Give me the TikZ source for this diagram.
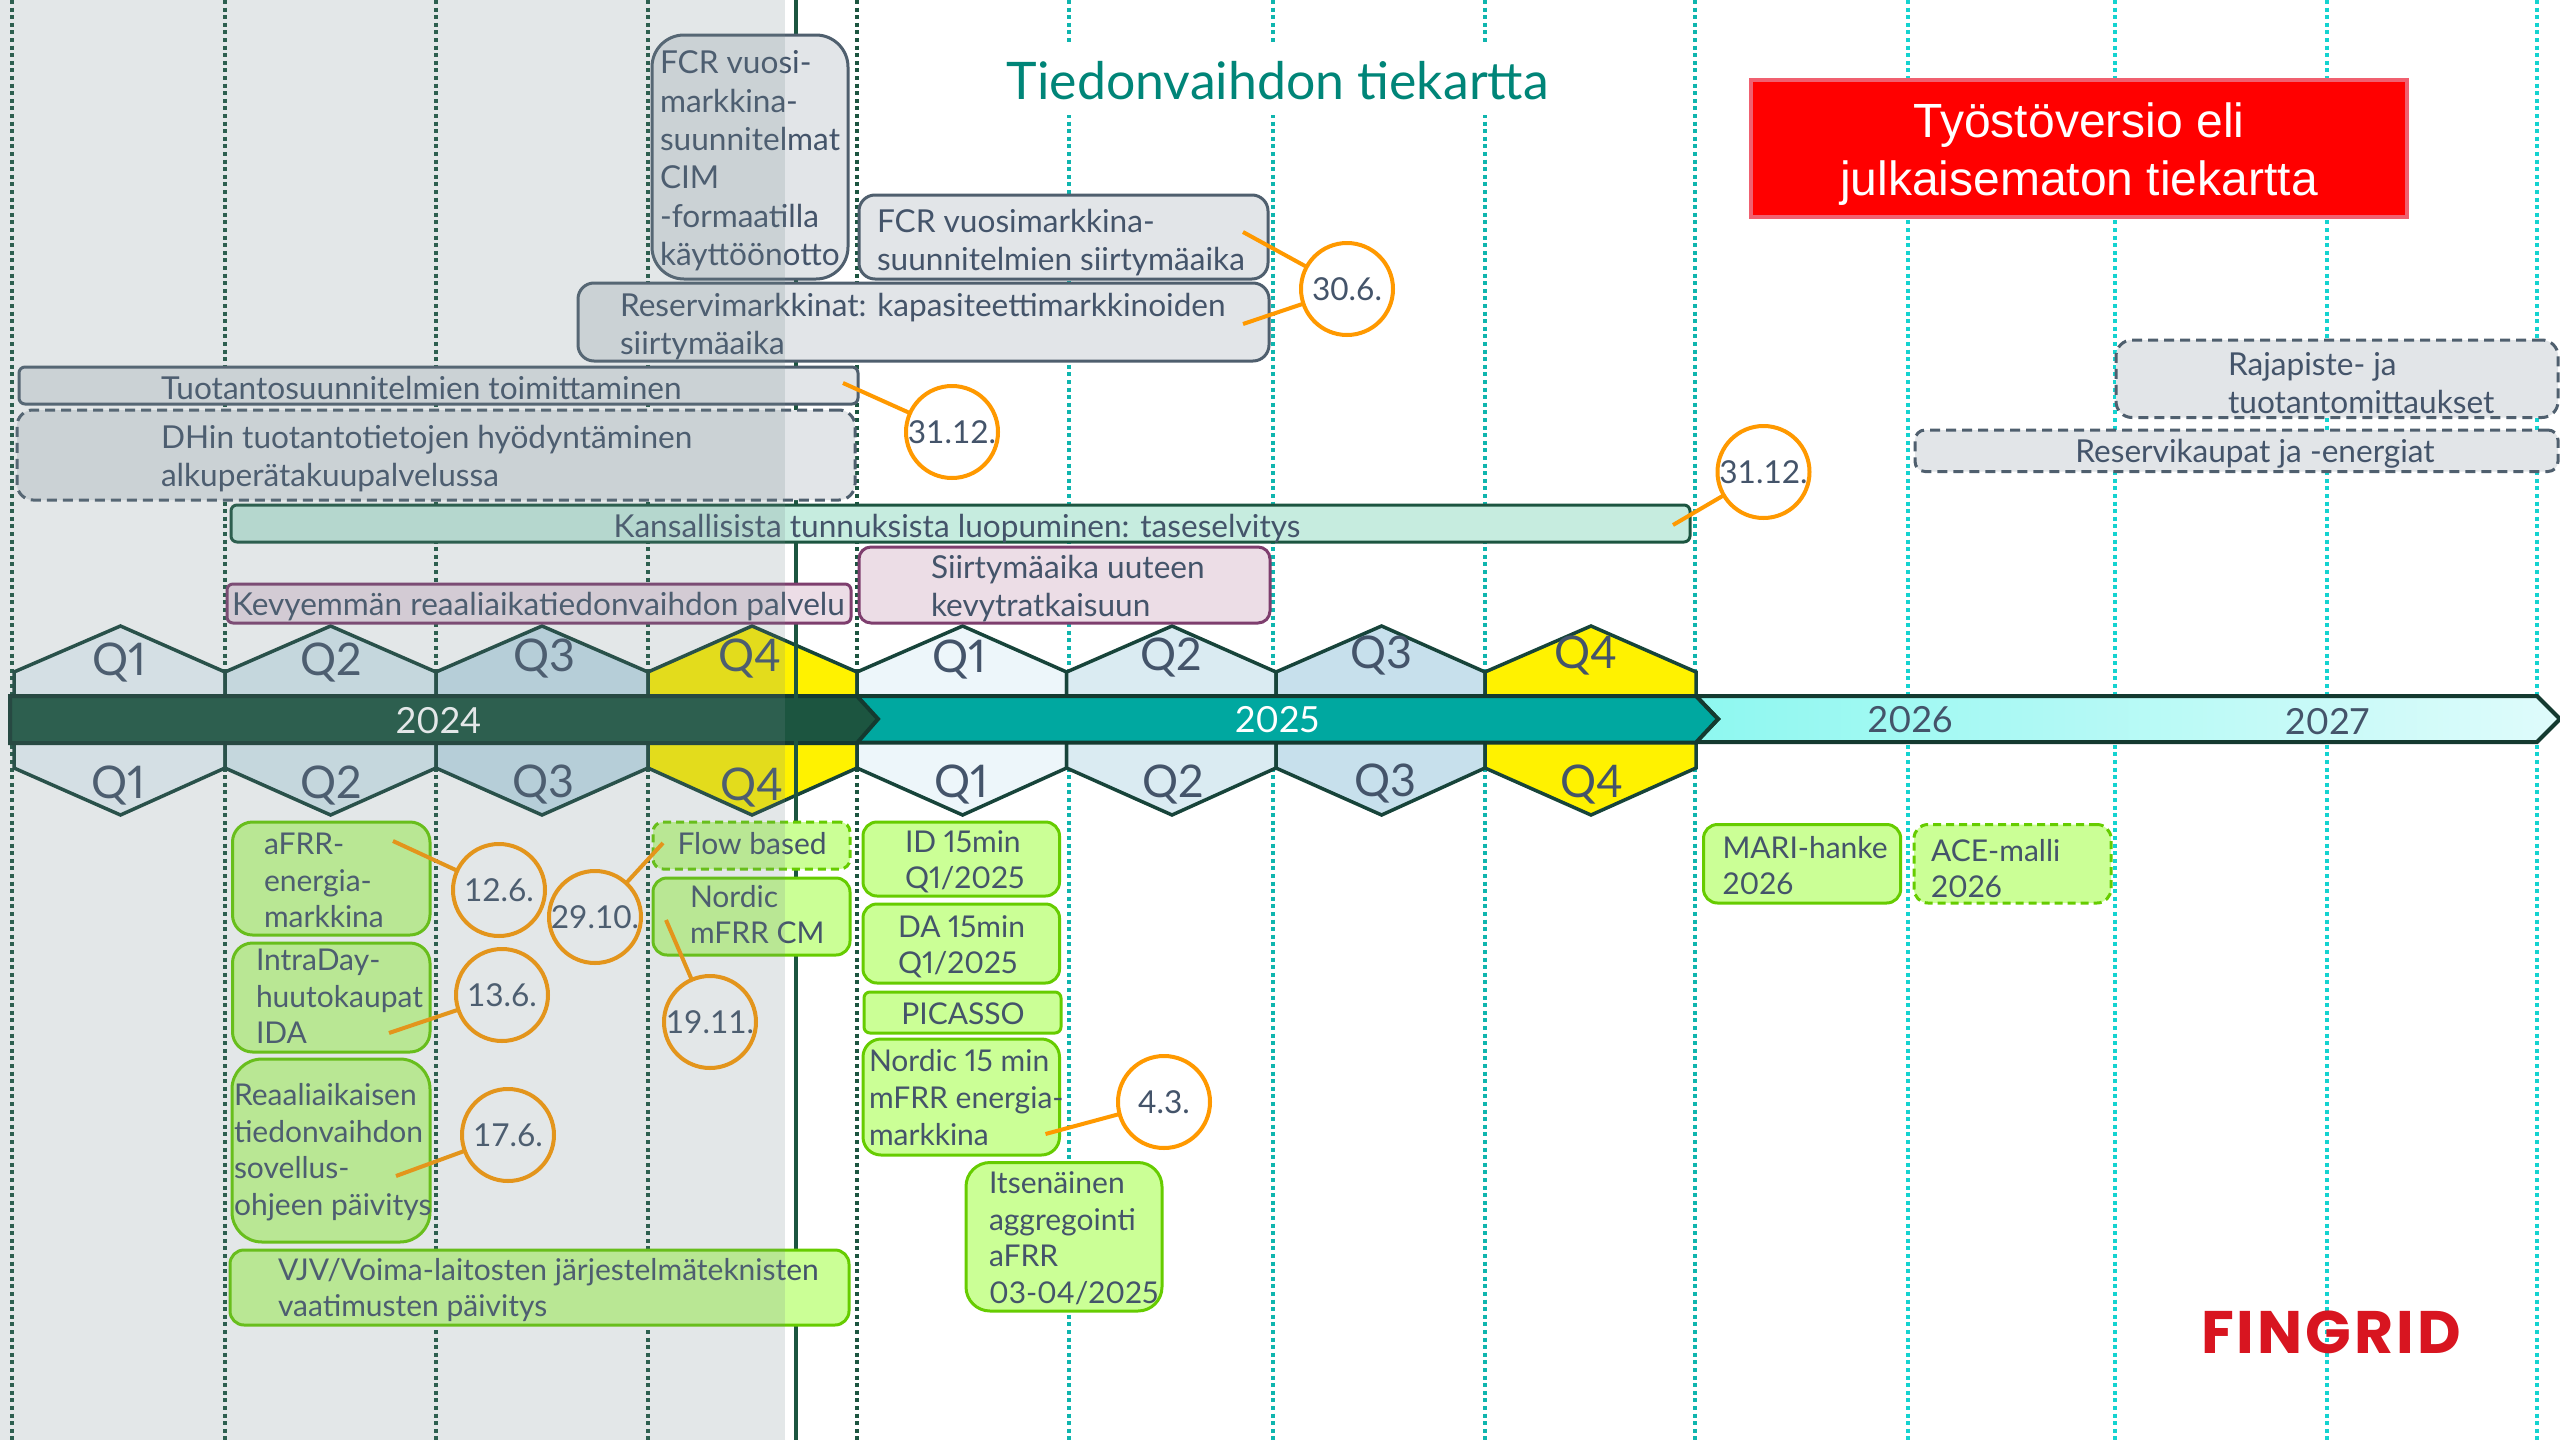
\documentclass[tikz,border=0pt]{standalone}
\usepackage{fontspec}
\setmainfont[Numbers=Proportional]{Lato}
\newfontfamily\circf[Numbers=Tabular]{Lato}
\newfontfamily\arialf{Liberation Sans}
\newfontfamily\logof[LetterSpace=5]{Poppins}
\definecolor{slate}{HTML}{44546A}
\definecolor{overlayc}{HTML}{73878C}
\definecolor{strokeg}{HTML}{4F5F6E}
\definecolor{fillg}{HTML}{E2E5E8}
\definecolor{dkgreen}{HTML}{1C5540}
\definecolor{hexline}{HTML}{17443A}
\definecolor{barline}{HTML}{143A30}
\definecolor{teal}{HTML}{00A8A0}
\definecolor{tealdot}{HTML}{0FB5AE}
\definecolor{cyandot}{HTML}{14D3D0}
\definecolor{mint}{HTML}{C6ECDF}
\definecolor{pinkf}{HTML}{ECDDE6}
\definecolor{pinks}{HTML}{7E3E6E}
\definecolor{lime}{HTML}{CBFF96}
\definecolor{limes}{HTML}{66CC00}
\definecolor{orange1}{HTML}{FF9900}
\definecolor{qa}{HTML}{EDF6FA}
\definecolor{qb}{HTML}{DAEBF2}
\definecolor{qc}{HTML}{C7E0EC}
\definecolor{logored}{HTML}{D81520}
\definecolor{titlec}{HTML}{008578}
\definecolor{redstroke}{HTML}{F06070}
\definecolor{gradl}{HTML}{8EF8F0}
\definecolor{gradr}{HTML}{DFFBFB}
\tikzset{
  x=0.5pt,y=-0.5pt,
  every node/.style={inner sep=0pt,outer sep=0pt},
  dotdark/.style={draw=dkgreen,line width=2pt,dash pattern=on 2pt off 1.8pt},
  dotteal/.style={draw=tealdot,line width=2pt,dash pattern=on 2pt off 1.8pt},
  dotcyan/.style={draw=cyandot,line width=2pt,dash pattern=on 2pt off 1.8pt},
  hex/.style={draw=hexline,line width=1.75pt,line join=miter},
  bar/.style={draw=barline,line width=2pt,line join=miter},
  greybox/.style={draw=strokeg,fill=fillg,line width=1.5pt,rounded corners=#1},
  greybox/.default=8pt,
  greydash/.style={greybox=#1,dash pattern=on 5pt off 3pt},
  greydash/.default=8pt,
  mintbox/.style={draw=dkgreen,fill=mint,line width=1.5pt,rounded corners=3pt},
  pinkbox/.style={draw=pinks,fill=pinkf,line width=1.5pt,rounded corners=#1},
  limebox/.style={draw=limes,fill=lime,line width=1.5pt,rounded corners=#1},
  limebox/.default=9pt,
  limedash/.style={limebox=#1,dash pattern=on 4pt off 2.5pt},
  limedash/.default=6pt,
  txt/.style={font=\fontsize{15.8}{19.2}\selectfont,text=slate,align=left,yshift=-2.5pt,execute at begin node=\strut,execute at end node=\strut},
  txtg/.style={font=\fontsize{15}{18.3}\selectfont,text=slate,align=left,yshift=-2.5pt,execute at begin node=\strut,execute at end node=\strut},
  qlab/.style={font=\fontsize{22.5}{26}\selectfont,text=slate,yshift=-0.7pt},
  yearw/.style={font=\fontsize{18}{22}\selectfont,text=white},
  yeard/.style={font=\fontsize{18}{22}\selectfont,text=slate},
  datec/.style={circle,draw=orange1,line width=2pt,minimum size=46pt,font=\circf\fontsize{15.8}{18}\selectfont,text=slate,fill=white},
  conn/.style={draw=orange1,line width=2pt},
}
\newcommand{\BX}[6]{%
  \pgfmathsetmacro\bw{(#5-#3)*0.5}\pgfmathsetmacro\bh{(#6-#4)*0.5}%
  \node[#2,minimum width=\bw pt,minimum height=\bh pt] (#1) at ({(#3+#5)/2},{(#4+#6)/2}) {};}
\newcommand{\dlow}[2]{\raisebox{-#1pt}{#2}}
\begin{document}
\begin{tikzpicture}
\useasboundingbox (0,0) rectangle (2560,1440);
\fill[white] (0,0) rectangle (2560,1440);
% vertical guides
\foreach \xx in {11.5,225,436,648,857}{\draw[dotdark] (\xx,0) -- (\xx,1440);}
\foreach \xx in {1069,1273,1485,1695}{\draw[dotteal] (\xx,0) -- (\xx,1440);}
\foreach \xx in {1908,2115,2327,2537}{\draw[dotcyan] (\xx,0) -- (\xx,1440);}
% title
\node[fill=white,minimum width=340pt,minimum height=36pt] (titlebg) at (1278,79) {};
\node[font=\fontsize{25.9}{30}\selectfont,text=titlec] (title) at (1278,81) {Tiedonvaihdon tiekartta};
% red box
\BX{redbox}{draw=redstroke,fill=red,line width=2pt}{1751}{80}{2407}{217}
\node[font=\arialf\fontsize{24}{29}\selectfont,text=white,align=center] (redt) at (2079,154) {Työstöversio eli\\julkaisematon tiekartta};
% hexagons
\foreach \xa/\xm/\xb/\cc in {14/120.5/225/qa,225/330.6/436/qb,436/542/648/qc,648/752/857/yellow,857/962.6/1066.6/qa,1066.6/1172/1276/qb,1276/1381.6/1485/qc,1485/1591/1696/yellow}{
  \filldraw[hex,fill=\cc] (\xa,700) -- (\xa,672) -- (\xm,626) -- (\xb,672) -- (\xb,700) -- cycle;
  \filldraw[hex,fill=\cc] (\xa,740) -- (\xa,768) -- (\xm,815) -- (\xb,768) -- (\xb,740) -- cycle;
}
\node[qlab] (qu1) at (119,661) {Q1};
\node[qlab] (qu2) at (331,661) {Q2};
\node[qlab] (qu3) at (544,657) {Q3};
\node[qlab] (qu4) at (750,657) {Q4};
\node[qlab] (qu5) at (959,658) {Q1};
\node[qlab] (qu6) at (1171,656) {Q2};
\node[qlab] (qu7) at (1381,654) {Q3};
\node[qlab] (qu8) at (1586,654) {Q4};
\node[qlab] (ql1) at (118,784) {Q1};
\node[qlab] (ql2) at (331,784) {Q2};
\node[qlab] (ql3) at (543,783) {Q3};
\node[qlab] (ql4) at (752,786) {Q4};
\node[qlab] (ql5) at (961,783) {Q1};
\node[qlab] (ql6) at (1173,783) {Q2};
\node[qlab] (ql7) at (1385,782) {Q3};
\node[qlab] (ql8) at (1591.5,783) {Q4};
% year bars
\path[bar,left color=gradl,right color=gradr] (1696,696) -- (2537,696) -- (2560,719) -- (2537,742) -- (1696,742) -- (1718,719) -- cycle;
\filldraw[bar,fill=teal] (857,696) -- (1696,696) -- (1718,719) -- (1696,742.5) -- (857,742.5) -- cycle;
\filldraw[bar,fill=dkgreen] (10,696) -- (857,696) -- (878,719) -- (857,743) -- (10,743) -- cycle;
\node[yearw] (y24) at (438.6,721) {2024};
\node[yearw] (y25) at (1277,720) {2025};
\node[yeard] (y26) at (1910,720) {2026};
\node[yeard] (y27) at (2327,722) {2027};
% today line
\draw[dkgreen,line width=2pt] (796,0) -- (796,1440);
% grey boxes
\BX{fcrA}{greybox=16pt}{652}{35}{848}{279}
\node[txt,anchor=west] (fcrAt) at (660,159) {FCR vuosi-\\markkina-\\suunnitelmat\\CIM\\-formaatilla\\käyttöönotto};
\BX{fcrB}{greybox=8pt}{859}{195}{1268}{279}
\node[txt,anchor=west] (fcrBt) at (877,240.5) {FCR vuosimarkkina-\\suunnitelmien siirtymäaika};
\BX{resv}{greybox=8pt}{578}{283}{1269}{361}
\node[txt,anchor=west] (resvt) at (620,324.5) {Reservimarkkinat: kapasiteettimarkkinoiden\\siirtymäaika};
\BX{tuot}{greybox=3pt}{19}{367}{858}{404}
\node[txt,anchor=west] (tuott) at (161,387) {Tuotantosuunnitelmien toimittaminen};
\BX{dhin}{greydash=8pt}{17}{410}{855}{500}
\node[txt,anchor=west] (dhint) at (161,456.5) {DHin tuotantotietojen hyödyntäminen\\alkuperätakuupalvelussa};
\BX{kans}{mintbox}{231}{505}{1690}{542}
\node[txt] (kanst) at (957,525) {Kansallisista tunnuksista luopuminen: taseselvitys};
\BX{kevy}{pinkbox=3pt}{227}{584}{851}{623}
\node[txt,anchor=west] (kevyt) at (232,603) {Kevyemmän reaaliaikatiedonvaihdon palvelu};
\BX{siir}{pinkbox=6pt}{859}{547}{1270}{623}
\node[txt,anchor=west] (siirt) at (931,586.5) {Siirtymäaika uuteen\\kevytratkaisuun};
\BX{raja}{greydash=8pt}{2116}{340}{2558}{417.5}
\node[txt,anchor=west] (rajat) at (2228,384) {Rajapiste- ja\\tuotantomittaukset};
\BX{rese}{greydash=5pt}{1915}{430}{2558}{471.5}
\node[txt] (reset) at (2255,450) {Reservikaupat ja -energiat};
% green boxes
\BX{afrr}{limebox=10pt}{232.5}{822}{430}{935}
\node[txtg,anchor=west] (afrrt) at (264,881) {aFRR-\\energia-\\markkina};
\BX{intr}{limebox=10pt}{232.5}{943}{430}{1052}
\node[txtg,anchor=west] (intrt) at (256,997) {IntraDay-\\huutokaupat\\IDA};
\BX{reaa}{limebox=15pt}{232}{1059}{430}{1242}
\node[txtg,anchor=west] (reaat) at (234,1150) {Reaaliaikaisen\\tiedonvaihdon\\sovellus-\\ohjeen päivitys};
\BX{vjv}{limebox=7pt}{230}{1250}{849}{1325}
\node[txtg,anchor=west] (vjvt) at (278,1288) {VJV/Voima-laitosten järjestelmäteknisten\\vaatimusten päivitys};
\BX{flow}{limedash=5pt}{653}{822}{850}{869}
\node[txtg,anchor=west] (flowt) at (677.5,842) {Flow based};
\BX{nord}{limebox=7pt}{653}{878}{850}{955}
\node[txtg,anchor=west] (nordt) at (690,915) {Nordic\\mFRR CM};
\BX{idq}{limebox=7pt}{863}{822}{1059.5}{896}
\node[txtg,anchor=west] (idqt) at (905,860) {ID 15min\\Q1/2025};
\BX{daq}{limebox=7pt}{863}{904}{1059.5}{983}
\node[txtg,anchor=west] (daqt) at (898,945) {DA 15min\\Q1/2025};
\BX{pica}{limebox=3pt}{864}{992}{1061}{1033}
\node[txtg] (picat) at (963,1012) {PICASSO};
\BX{nor}{limebox=9pt}{863}{1039}{1059.5}{1155}
\node[txtg,anchor=west] (nort) at (869,1098) {Nordic 15 min\\mFRR energia-\\markkina};
\BX{itse}{limebox=12pt}{966}{1162.5}{1162}{1311}
\node[txtg,anchor=west] (itset) at (989,1238) {Itsenäinen\\aggregointi\\aFRR\\03-04/2025};
\BX{mari}{limebox=7pt}{1703.5}{824.5}{1900.7}{903}
\node[txtg,anchor=west] (marit) at (1722.5,866) {MARI-hanke\\2026};
\BX{ace}{limedash=7pt}{1914}{824.5}{2111}{903}
\node[txtg,anchor=west] (acet) at (1931,869) {ACE-malli\\2026};
% date circles
\node[datec] (d306) at (1347,289) {30.6.};
\node[datec] (d3112a) at (952,432) {\dlow{0.7}{31.12.}};
\node[datec] (d3112b) at (1763.5,472) {\dlow{1.5}{31.12.}};
\node[datec] (d126) at (499,890) {\dlow{0.7}{12.6.}};
\node[datec] (d2910) at (595,917) {\dlow{2}{29.10.}};
\node[datec] (d136) at (502,995) {\dlow{0.7}{13.6.}};
\node[datec] (d1911) at (710,1022) {\dlow{1.5}{19.11.}};
\node[datec] (d176) at (508,1135) {\dlow{0.7}{17.6.}};
\node[datec] (d43) at (1164,1102) {4.3.};
% connector free ends
\coordinate (e1) at (1243,232);
\coordinate (e2) at (1243,324);
\coordinate (e3) at (843,383);
\coordinate (e4) at (1673,525);
\coordinate (e5) at (393,841);
\coordinate (e6) at (663,843);
\coordinate (e7) at (389,1033);
\coordinate (e8) at (666,920);
\coordinate (e9) at (396,1176);
\coordinate (e10) at (1045.5,1134);
\draw[conn] (e1) -- (d306);
\draw[conn] (e2) -- (d306);
\draw[conn] (e3) -- (d3112a);
\draw[conn] (e4) -- (d3112b);
\draw[conn] (e5) -- (d126);
\draw[conn] (e6) -- (d2910);
\draw[conn] (e7) -- (d136);
\draw[conn] (e8) -- (d1911);
\draw[conn] (e9) -- (d176);
\draw[conn] (e10) -- (d43);
% logo
\node[font=\logof\bfseries\fontsize{30}{34}\selectfont,text=logored] (logo) at (2331,1332) {FINGRID};
% past-time overlay
\fill[overlayc,opacity=0.2] (0,0) rectangle (785,1440);
\end{tikzpicture}
\end{document}
